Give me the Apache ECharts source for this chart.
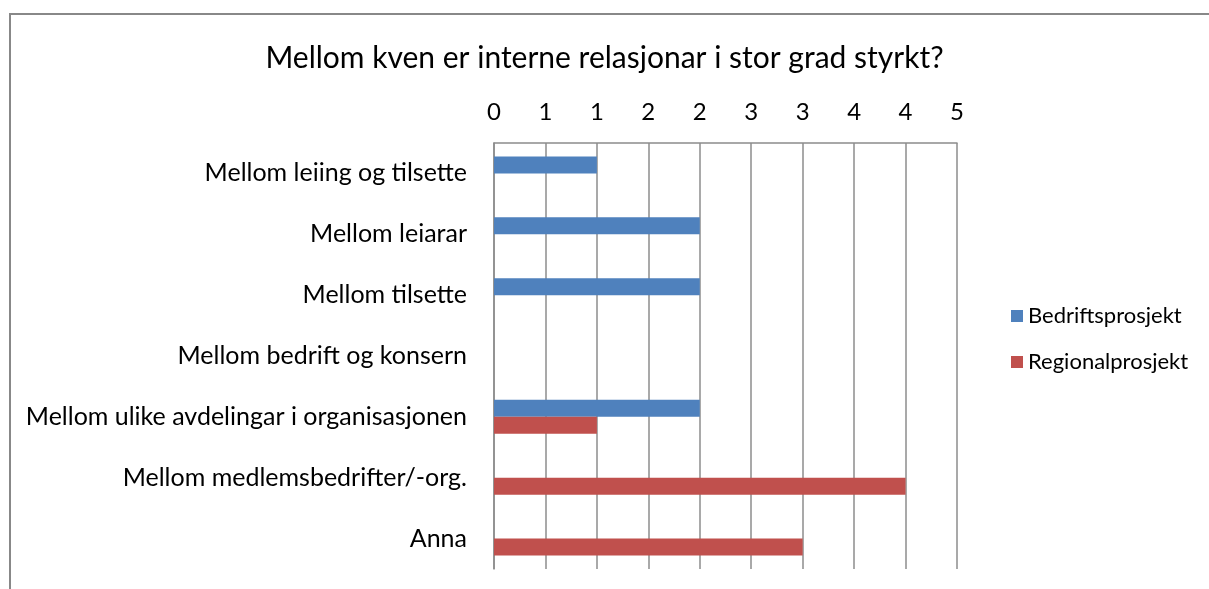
<!doctype html>
<html>
<head>
<meta charset="UTF-8">
<title>Interne relasjonar</title>
<script src="https://cdn.jsdelivr.net/npm/echarts@6/dist/echarts.min.js"></script>
<style>
  html, body { margin: 0; padding: 0; background: #fff; }
  #main { width: 1209px; height: 589px; }
</style>
</head>
<body>
<div id="main"></div>
<script>
// data
var categories = [
  'Mellom leiing og tilsette',
  'Mellom leiarar',
  'Mellom tilsette',
  'Mellom bedrift og konsern',
  'Mellom ulike avdelingar i organisasjonen',
  'Mellom medlemsbedrifter/-org.',
  'Anna'
];
var bedrift = [1, 2, 2, 0, 2, 0, 0];
var regional = [0, 0, 0, 0, 1, 4, 3];
var seriesNames = ['Bedriftsprosjekt', 'Regionalprosjekt'];

var font = 'Lato, "Open Sans", sans-serif';
var myChart = echarts.init(document.getElementById('main'));

var option = {
  animation: false,
  title: {
    text: 'Mellom kven er interne relasjonar i stor grad styrkt?',
    left: 'center',
    top: 38,
    textStyle: { fontFamily: font, fontSize: 30, fontWeight: 'normal', color: '#000' }
  },
  legend: {
    orient: 'vertical',
    left: 1006,
    top: 300,
    itemGap: 24,
    itemWidth: 12,
    itemHeight: 12,
    icon: 'rect',
    data: seriesNames,
    textStyle: { fontFamily: font, fontSize: 22, color: '#000' }
  },
  grid: { left: 494, top: 143, width: 463, height: 426, containLabel: false },
  xAxis: {
    type: 'value',
    position: 'top',
    min: 0,
    max: 4.5,
    interval: 0.5,
    axisLine: { show: true, lineStyle: { color: '#8c8c8c', width: 1.5 } },
    axisTick: { show: false },
    splitLine: { show: true, lineStyle: { color: '#8c8c8c', width: 1.5 } },
    axisLabel: {
      margin: 19,
      fontFamily: font, fontSize: 24, color: '#000',
      formatter: function (v) { return Math.round(v); }
    }
  },
  yAxis: {
    type: 'category',
    inverse: true,
    data: categories,
    axisLine: { show: true, lineStyle: { color: '#8c8c8c', width: 1.5 } },
    axisTick: { show: false },
    axisLabel: { margin: 27, fontFamily: font, fontSize: 25, color: '#000' }
  },
  series: [
    { name: seriesNames[0], type: 'bar', data: bedrift, barWidth: 17, barGap: '0%',
      itemStyle: { color: '#4F81BD' } },
    { name: seriesNames[1], type: 'bar', data: regional, barWidth: 17,
      itemStyle: { color: '#C0504D' } }
  ],
  graphic: [{
    type: 'rect',
    shape: { x: 10, y: 14, width: 1400, height: 800 },
    style: { fill: 'none', stroke: '#888', lineWidth: 2 },
    silent: true
  }]
};

myChart.setOption(option);
</script>
</body>
</html>
